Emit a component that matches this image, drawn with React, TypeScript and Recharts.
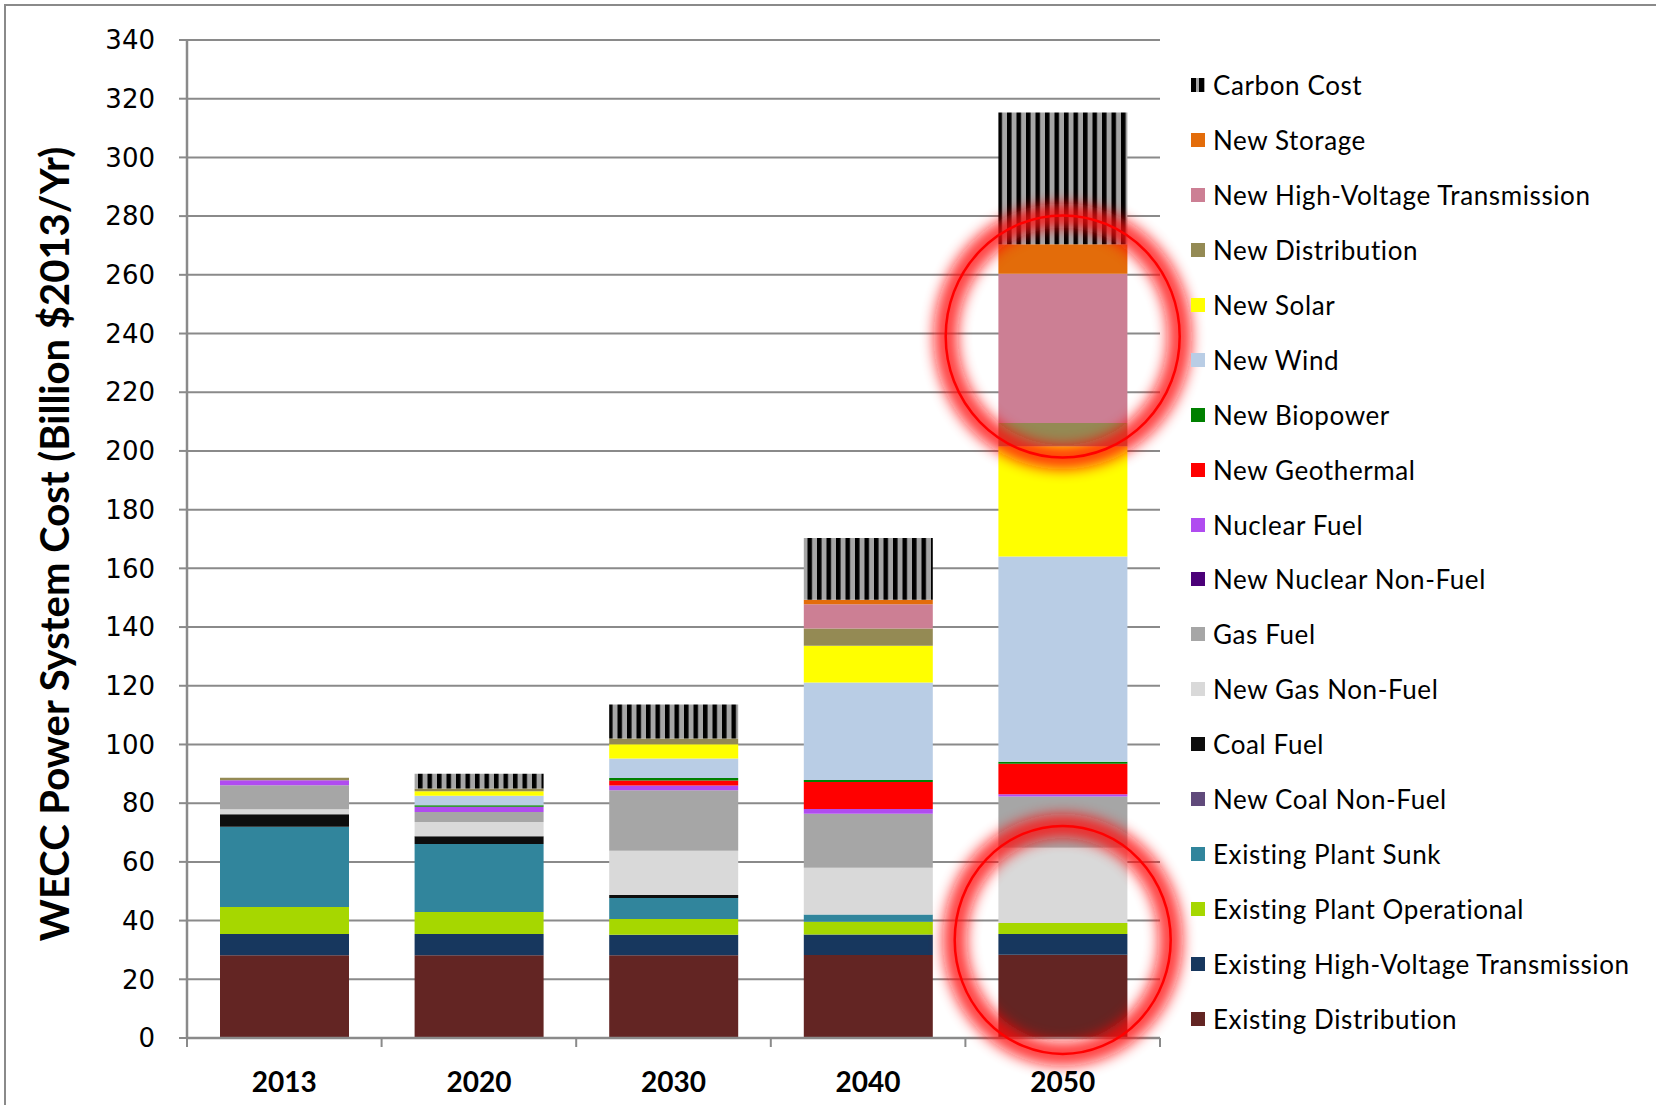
import { BarChart, Bar, XAxis, YAxis, CartesianGrid, ReferenceDot } from 'recharts'

const years = ['2013', '2020', '2030', '2040', '2050']
const yTicks = [0, 20, 40, 60, 80, 100, 120, 140, 160, 180, 200, 220, 240, 260, 280, 300, 320, 340]

// values in billion $2013/yr
const existingDistribution = [28.2, 28.2, 28.2, 28.3, 28.4]
const existingHVTransmission = [7.2, 7.2, 7.0, 7.0, 7.0]
const existingPlantOperational = [9.2, 7.5, 5.3, 4.3, 3.8]
const existingPlantSunk = [27.4, 23.2, 7.2, 2.5, 0]
const newCoalNonFuel = [0, 0, 0, 0, 0]
const coalFuel = [4.2, 2.6, 1.0, 0, 0]
const newGasNonFuel = [1.7, 4.9, 15.1, 15.9, 25.6]
const gasFuel = [8.2, 3.4, 20.6, 18.4, 17.5]
const newNuclearNonFuel = [0, 0, 0, 0, 0]
const nuclearFuel = [1.7, 1.8, 1.6, 1.6, 0.7]
const newGeothermal = [0, 0, 1.7, 9.2, 10.4]
const newBiopower = [0, 0.5, 0.9, 0.7, 0.7]
const newWind = [0, 3.2, 6.6, 33.2, 69.9]
const newSolar = [0, 1.6, 4.9, 12.5, 37.6]
const newDistribution = [0.9, 0.9, 1.9, 5.9, 7.9]
const newHVTransmission = [0, 0, 0, 8.3, 50.9]
const newStorage = [0, 0, 0, 1.5, 10.0]
const carbonCost = [0, 5.0, 11.6, 21.0, 44.9]

// highlighted spots on the 2050 bar
const circleYear = '2050'
const circleValues = [239, 33.4]

// bottom-to-top stacking order
const series = [
  { key: 'existingDistribution', name: 'Existing Distribution', color: '#632523', values: existingDistribution },
  { key: 'existingHV', name: 'Existing High-Voltage Transmission', color: '#17375e', values: existingHVTransmission },
  { key: 'existingOp', name: 'Existing Plant Operational', color: '#a6d700', values: existingPlantOperational },
  { key: 'existingSunk', name: 'Existing Plant Sunk', color: '#31859c', values: existingPlantSunk },
  { key: 'newCoalNonFuel', name: 'New Coal Non-Fuel', color: '#604a7b', values: newCoalNonFuel },
  { key: 'coalFuel', name: 'Coal Fuel', color: '#0d0d0d', values: coalFuel },
  { key: 'newGasNonFuel', name: 'New Gas Non-Fuel', color: '#d9d9d9', values: newGasNonFuel },
  { key: 'gasFuel', name: 'Gas Fuel', color: '#a6a6a6', values: gasFuel },
  { key: 'newNuclearNonFuel', name: 'New Nuclear Non-Fuel', color: '#4b0078', values: newNuclearNonFuel },
  { key: 'nuclearFuel', name: 'Nuclear Fuel', color: '#b04cf0', values: nuclearFuel },
  { key: 'newGeothermal', name: 'New Geothermal', color: '#ff0000', values: newGeothermal },
  { key: 'newBiopower', name: 'New Biopower', color: '#008000', values: newBiopower },
  { key: 'newWind', name: 'New Wind', color: '#b9cde5', values: newWind },
  { key: 'newSolar', name: 'New Solar', color: '#ffff00', values: newSolar },
  { key: 'newDistribution', name: 'New Distribution', color: '#948a54', values: newDistribution },
  { key: 'newHV', name: 'New High-Voltage Transmission', color: '#cc7f94', values: newHVTransmission },
  { key: 'newStorage', name: 'New Storage', color: '#e36c0a', values: newStorage },
  { key: 'carbonCost', name: 'Carbon Cost', color: 'url(#carbonStripes)', values: carbonCost },
]

const data = years.map((year, i) => {
  const row: Record<string, string | number> = { year }
  series.forEach((s) => {
    row[s.key] = s.values[i]
  })
  return row
})

const PLOT_LEFT = 187
const PLOT_RIGHT = 1160
const BAND = (PLOT_RIGHT - PLOT_LEFT) / years.length
const GRID = '#8a8a8a'

function XTick(props: any) {
  const { x, y, payload, index } = props
  return (
    <g>
      <line x1={x - BAND / 2} y1={y} x2={x - BAND / 2} y2={y + 9} stroke={GRID} strokeWidth={2} />
      {index === years.length - 1 && (
        <line x1={x + BAND / 2} y1={y} x2={x + BAND / 2} y2={y + 9} stroke={GRID} strokeWidth={2} />
      )}
      <text
        x={x}
        y={y + 44}
        dy="0.35em"
        textAnchor="middle"
        fontFamily="Lato"
        fontWeight="bold"
        fontSize={28}
        fill="#000"
      >
        {payload.value}
      </text>
    </g>
  )
}

function Ring(rx: number, ry: number) {
  return (props: any) => {
    const { cx, cy } = props
    return (
      <g>
        <ellipse cx={cx} cy={cy} rx={rx} ry={ry} fill="none" stroke="#ff1010" strokeWidth={24} opacity={0.8} filter="url(#glow)" />
        <ellipse cx={cx} cy={cy} rx={rx} ry={ry} fill="none" stroke="#ff0000" strokeWidth={2.5} />
      </g>
    )
  }
}

function LegendMarker({ color }: { color: string }) {
  if (color.startsWith('url')) {
    return (
      <svg width={14} height={14} style={{ marginRight: 8 }}>
        <rect x={0} y={0} width={14} height={14} fill="#a6a6a6" />
        <rect x={0} y={0} width={5} height={14} fill="#000" />
        <rect x={8} y={0} width={5} height={14} fill="#000" />
      </svg>
    )
  }
  return <div style={{ width: 14, height: 14, background: color, marginRight: 8 }} />
}

export default function App() {
  const legendItems = [...series].reverse()
  return (
    <div style={{ position: 'fixed', left: 0, top: 0, width: 1656, height: 1105, background: '#fff' }}>
      <div
        style={{
          position: 'absolute',
          left: 4,
          top: 4,
          width: 1700,
          height: 1200,
          borderTop: `2px solid ${GRID}`,
          borderLeft: `2px solid ${GRID}`,
        }}
      />
      <BarChart
        width={1656}
        height={1105}
        data={data}
        barSize={129}
        margin={{ top: 40, right: 1656 - PLOT_RIGHT, bottom: 7, left: PLOT_LEFT - 90 }}
        style={{ position: 'absolute', left: 0, top: 0 }}
      >
        <defs>
          <pattern id="carbonStripes" patternUnits="userSpaceOnUse" width={9.5} height={10}>
            <rect x={0} y={0} width={9.5} height={10} fill="#a6a6a6" />
            <rect x={0} y={0} width={4.5} height={10} fill="#000" />
          </pattern>
          <filter id="glow" x="-50%" y="-50%" width="200%" height="200%">
            <feGaussianBlur stdDeviation={7} />
          </filter>
        </defs>
        <CartesianGrid vertical={false} stroke={GRID} strokeWidth={2} />
        <XAxis
          dataKey="year"
          height={60}
          tickLine={false}
          tickSize={0}
          tickMargin={0}
          axisLine={{ stroke: GRID, strokeWidth: 2.5 }}
          tick={<XTick />}
          interval={0}
        />
        <YAxis
          width={90}
          domain={[0, 340]}
          ticks={yTicks}
          interval={0}
          tickSize={8}
          tickMargin={24}
          tickLine={{ stroke: GRID, strokeWidth: 2 }}
          axisLine={{ stroke: GRID, strokeWidth: 2.5 }}
          tick={{ fill: '#000', fontSize: 26, fontFamily: 'DejaVu Sans' }}
          label={{
            content: () => (
              <text
                x={54}
                y={544}
                transform="rotate(-90 54 544)"
                textAnchor="middle"
                dominantBaseline="central"
                fontFamily="Lato"
                fontWeight="bold"
                fontSize={40}
                fill="#000"
              >
                WECC Power System Cost (Billion $2013/Yr)
              </text>
            ),
          }}
        />
        <YAxis
          yAxisId="right"
          orientation="right"
          width={0}
          domain={[0, 340]}
          tick={false}
          tickLine={false}
          axisLine={{ stroke: GRID, strokeWidth: 2.5 }}
        />
        {series.map((s) => (
          <Bar key={s.key} dataKey={s.key} name={s.name} stackId="cost" fill={s.color} isAnimationActive={false} />
        ))}
        <ReferenceDot x={circleYear} y={circleValues[0]} r={1} ifOverflow="visible" shape={Ring(117, 121)} />
        <ReferenceDot x={circleYear} y={circleValues[1]} r={1} ifOverflow="visible" shape={Ring(108, 114)} />
      </BarChart>
      <div style={{ position: 'absolute', left: 1191, top: 58 }}>
        {legendItems.map((s) => (
          <div
            key={s.key}
            style={{
              height: 54.9,
              display: 'flex',
              alignItems: 'center',
              fontFamily: 'Lato',
              fontSize: 26,
              letterSpacing: 0.6,
              color: '#000',
              whiteSpace: 'nowrap',
            }}
          >
            <LegendMarker color={s.color} />
            <span>{s.name}</span>
          </div>
        ))}
      </div>
    </div>
  )
}
